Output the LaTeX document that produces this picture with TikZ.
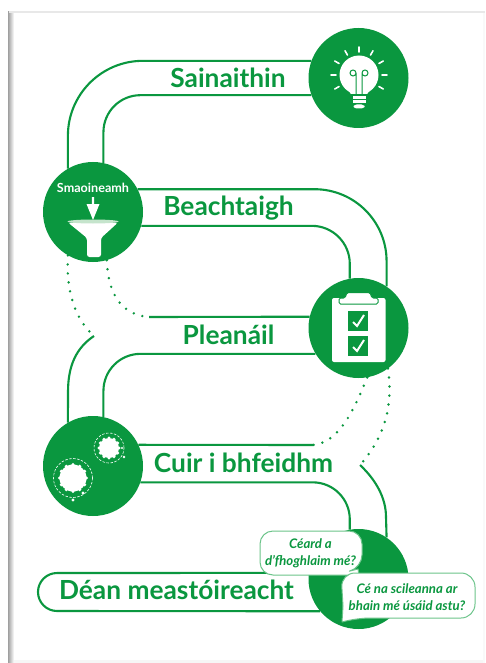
\documentclass[tikz,border=0pt]{standalone}
\usepackage{fontspec}
\setmainfont{Lato}
\usepackage{xcolor}
\definecolor{leaf}{HTML}{0A973F}
\definecolor{paleleaf}{HTML}{6CC48A}
\definecolor{rimleaf}{HTML}{C5E4CC}
\tikzset{
    stage/.style={circle,fill=leaf,minimum size=100pt,inner sep=0pt},
    track/.style={draw=leaf,line width=2.1pt},
    dots/.style={draw=leaf,line width=2.7pt,line cap=round,dash pattern=on 0pt off 9pt},
    steplabel/.style={text=leaf,font=\fontsize{26.3}{26.3}\selectfont\bfseries,anchor=base,inner sep=0pt},
    bubble/.style={draw=paleleaf,fill=white,line width=1pt,line join=round},
    bubbletext/.style={text=leaf,align=center,inner sep=0pt,font=\fontsize{13.2}{16.5}\selectfont\bfseries\itshape},
}

\begin{document}
\begin{tikzpicture}[x=1pt,y=-1pt]
    \useasboundingbox (0,0) rectangle (485,663);
    \fill[white] (0,0) rectangle (485,663);
    \shade[left color=gray!75,right color=white] (8,12) rectangle (14,663);
    \fill[gray!18] (9,11) rectangle (485,13);
    \fill[gray!7] (14,660) rectangle (485,663);
    \fill[gray!5] (483,13) rectangle (485,663);

    \node[stage] (bulb) at (358.5,78) {};
    \node[stage] (funnel) at (93,212) {};
    \node[stage] (clipboard) at (358.5,328) {};
    \node[stage] (gears) at (93,466) {};
    \node[stage] (review) at (358.5,579) {};

    \coordinate (planin) at (149,317);
    \coordinate (planout) at (94,336);
    \coordinate (doin) at (313,445);
    \coordinate (doout) at (360,465);
    \coordinate (pillend) at (57,573);

    \draw[track,rounded corners=75pt] (bulb.160) -| (funnel.120);
    \draw[track,rounded corners=37pt] (bulb.200) -| (funnel.78);

    \draw[track,rounded corners=72pt] (funnel.27) -| (clipboard.56);
    \draw[track,rounded corners=38pt] (funnel.-16) -| (clipboard.100);
    \draw[dots] (funnel.240) .. controls (66,290) and (74,318) .. (planout);
    \draw[dots] (funnel.286) .. controls (108,295) and (122,315) .. (planin);

    \draw[track] (clipboard.167) -- (planin);
    \draw[track,rounded corners=37pt] (clipboard.211) -| (gears.78);
    \draw[track] (planout) .. controls (76,348) and (68,366) .. (68,392) -- (gears.120);
    \draw[dots] (clipboard.280) .. controls (352,415) and (338,442) .. (doin);
    \draw[dots] (clipboard.306) .. controls (394,410) and (382,440) .. (doout);

    \draw[track] (gears.25) -- (doin);
    \draw[track,rounded corners=37pt] (gears.-19) -| (review.100);
    \draw[track] (doout) .. controls (376,480) and (386,498) .. (386,517) -- (review.56);

    \draw[track] (review.173) -- (pillend) arc[start angle=-90,end angle=-270,radius=19] -- (review.220);

    % bulb
    \begin{scope}[shift={(bulb.center)}]
        \fill[white] (0.5,-3) circle (19.5pt);
        \fill[white] (-11,11) -- (-7,17) -- (8,17) -- (12,11) -- cycle;
        \foreach \a in {-150,-120,-90,-60,-30,0,30,150,180}
            \draw[white,line width=1.6pt,line cap=round] (0.5,-3)++(\a:23) -- ++(\a:5);
        \draw[leaf,line width=1pt] (-2.5,16) -- (-2.5,-5) arc (0:-360:3);
        \draw[leaf,line width=1pt] (3.5,16) -- (3.5,-5) arc (180:540:3);
        \fill[leaf] (-8,16) rectangle (9,19);
        \fill[white] (-6,18.5) rectangle (7,21);
        \fill[white] (-6,22.5) rectangle (7,25);
        \fill[white,rounded corners=3pt] (-5,26.5) rectangle (6,30.5);
    \end{scope}

    % funnel
    \node[text=white,font=\fontsize{12.6}{12.6}\selectfont\bfseries,inner sep=0pt] (idea) at (93,188) {Smaoineamh};
    \begin{scope}[shift={(funnel.center)}]
        \fill[white] (-1.2,-15) -- (1.2,-15) -- (1.2,-8) -- (6.5,-8) -- (0,8) -- (-6.5,-8) -- (-1.2,-8) -- cycle;
        \fill[white,rounded corners=2.5pt] (-25,10.5) -- (25,10.5) -- (8,26) -- (8,45) -- (-6,45) -- (-6,26) -- cycle;
        \fill[rimleaf] (0,9.5) ellipse (25.5pt and 2pt);
    \end{scope}

    % clipboard
    \fill[white,rounded corners=2pt] (332,298) rectangle (385.5,362);
    \draw[leaf,fill=white,line width=1pt,rounded corners=1.5pt] (339,298) -- (345,298) -- (347,292.5) -- (370,292.5) -- (372,298) -- (378,298) -- (378,304) -- (339,304) -- cycle;
    \foreach \y in {0,25} {
        \fill[leaf] (348,311+\y) rectangle (368,331+\y);
        \draw[white,line width=2pt] (353,322+\y) -- (357,326+\y) -- (364,315+\y);
    }

    % gears
    \foreach \cx/\cy/\r/\ring in {109/448/10/15,73/478/13.5/19.5} {
        \fill[white] (\cx,\cy) circle (\r pt);
        \foreach \a in {0,30,...,330}
            \fill[white] (\cx,\cy)++(\a:\r) circle (1.7pt);
        \draw[white,line width=0.6pt,dash pattern=on 2.5pt off 1.5pt] (\cx,\cy) circle (\ring pt);
    }
    \fill[white] (122,448) circle (1.2pt);
    \fill[white] (124,457) circle (1.4pt);
    \fill[white] (83,493) circle (1.6pt);
    \fill[white] (73,500) circle (1.6pt);

    \node[steplabel] (identify) at (228,88) {Sainaithin};
    \node[steplabel] (observe) at (228.5,215) {Beachtaigh};
    \node[steplabel] (plan) at (228.5,344) {Pleanáil};
    \node[steplabel] (act) at (243.5,472) {Cuir i bhfeidhm};
    \node[steplabel] (evaluate) at (176.5,599) {Déan meastóireacht};

    \draw[bubble,rounded corners=13pt] (260,531) -- (362,531) -- (362,568) [sharp corners] -- (358,569) -- (360,580) -- (349,575) [rounded corners=13pt] -- (260,575) -- cycle;
    \node[bubbletext] (learnt) at (310.5,553.5) {Céard a\\d’fhoghlaim mé?};
    \draw[bubble,rounded corners=14pt] (341,573) -- (475,573) -- (475,618) -- (356,618) [sharp corners] -- (342,622) -- (343,606) [rounded corners=14pt] -- cycle;
    \node[bubbletext] (skills) at (407,597) {Cé na scileanna ar\\bhain mé úsáid astu?};
\end{tikzpicture}
\end{document}
